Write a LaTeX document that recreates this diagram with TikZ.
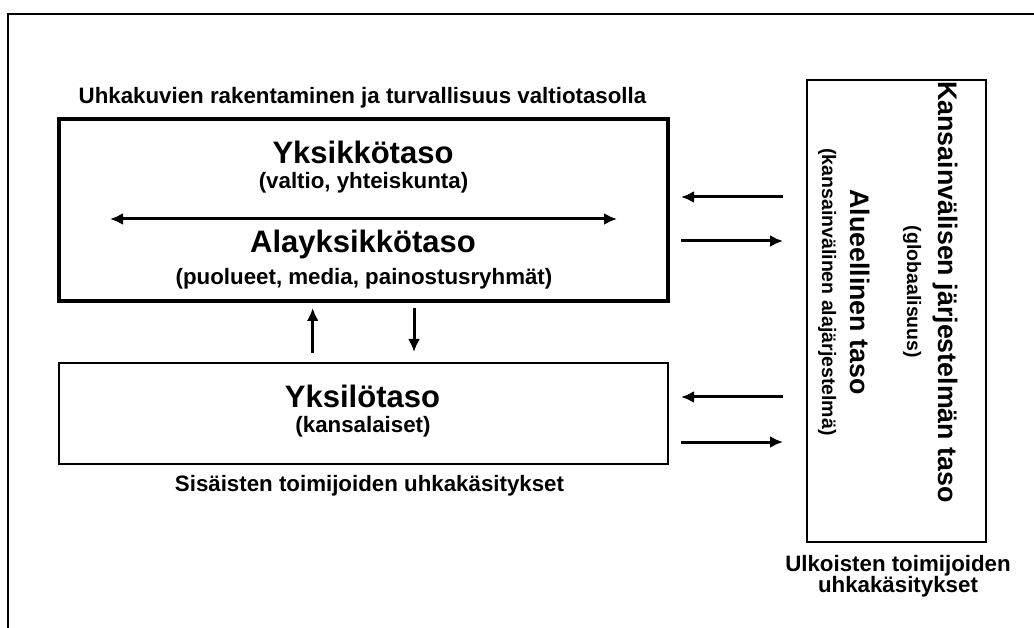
\documentclass[tikz,border=0pt]{standalone}
\usepackage{fontspec}
\setmainfont{Liberation Sans}
\usetikzlibrary{arrows.meta}
\begin{document}
\begin{tikzpicture}[x=1pt,y=-1pt,
  box/.style={draw, rectangle, inner sep=0pt},
  lbl/.style={anchor=base, inner sep=0pt, font=\bfseries\fontsize{22.3}{26}\selectfont},
  head/.style={anchor=base, inner sep=0pt, font=\bfseries\fontsize{31}{36}\selectfont},
  vhead/.style={anchor=base, inner sep=0pt, rotate=-90, font=\bfseries\fontsize{26.8}{31}\selectfont},
  vsub/.style={anchor=base, inner sep=0pt, rotate=-90, font=\bfseries\fontsize{19.5}{23}\selectfont},
  arr/.style={line width=3pt, -{Latex[length=13pt,width=12pt]}},
  darr/.style={line width=3pt, {Latex[length=13pt,width=12pt]}-{Latex[length=13pt,width=12pt]}}
]
\useasboundingbox (0,0) rectangle (1034,628);
% outer frame (open at right and bottom)
\draw[line width=2pt] (1034,14) -- (8,14) -- (8,628);

% boxes
\node[box, line width=4.5pt, minimum width=609pt, minimum height=182pt] (state) at (363.5,210) {};
\node[box, line width=2.5pt, minimum width=609pt, minimum height=101pt] (indiv) at (363.5,413.5) {};
\node[box, line width=2.5pt, minimum width=179pt, minimum height=462pt] (intl) at (896.5,311) {};

% texts in state box
\node[lbl] (title) at (362.5,104) {Uhkakuvien rakentaminen ja turvallisuus valtiotasolla};
\node[head] (yks) at (363,164) {Yksikkötaso};
\node[lbl] (yksb) at (363.5,189) {(valtio, yhteiskunta)};
\node[head] (ala) at (363,253) {Alayksikkötaso};
\node[lbl] (alab) at (364,285) {(puolueet, media, painostusryhmät)};

% texts in individual box
\node[head] (ykl) at (362.5,407) {Yksilötaso};
\node[lbl] (yklb) at (363,432) {(kansalaiset)};
\node[lbl] (sis) at (369.5,491) {Sisäisten toimijoiden uhkakäsitykset};

% texts in international box
\node[vhead] (kans) at (938,292) {Kansainvälisen järjestelmän taso};
\node[vsub] (glob) at (907,292) {(globaalisuus)};
\node[vhead] (alue) at (850,292) {Alueellinen taso};
\node[vsub] (alaj) at (822,292) {(kansainvälinen alajärjestelmä)};

\node[lbl] (ulk1) at (898,571) {Ulkoisten toimijoiden};
\node[lbl] (ulk2) at (898,592) {uhkakäsitykset};

% arrow end points
\coordinate (dL) at (110,219);
\coordinate (dR) at (617,219);
\coordinate (upB) at (312.7,353);
\coordinate (upT) at (312.7,308);
\coordinate (dnT) at (414,308);
\coordinate (dnB) at (414,352);
\coordinate (r1a) at (783,197);
\coordinate (r1b) at (681,197);
\coordinate (r2a) at (681,241);
\coordinate (r2b) at (783,241);
\coordinate (r3a) at (783,397);
\coordinate (r3b) at (681,397);
\coordinate (r4a) at (681,442);
\coordinate (r4b) at (783,442);

\draw[darr] (dL) -- (dR);
\draw[arr] (upB) -- (upT);
\draw[arr] (dnT) -- (dnB);
\draw[arr] (r1a) -- (r1b);
\draw[arr] (r2a) -- (r2b);
\draw[arr] (r3a) -- (r3b);
\draw[arr] (r4a) -- (r4b);
\end{tikzpicture}
\end{document}
